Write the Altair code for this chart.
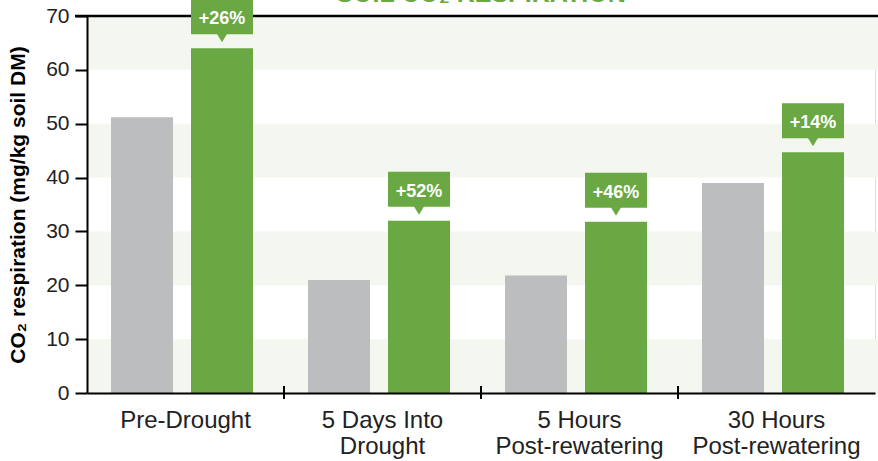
import altair as alt
import pandas as pd

categories = ["Pre-Drought", "5 Days Into\nDrought", "5 Hours\nPost-rewatering", "30 Hours\nPost-rewatering"]
series = ["Control", "Treated"]
control = [51.2, 21.0, 21.8, 39.0]
treated = [64.0, 32.0, 31.8, 44.7]
increase = ["+26%", "+52%", "+46%", "+14%"]
y_ticks = [0, 10, 20, 30, 40, 50, 60, 70]
stripe_lo = [0, 20, 40, 60]
stripe_hi = [10, 30, 50, 70]
title_text = "SOIL CO\u2082 RESPIRATION"
y_title = "CO\u2082 respiration (mg/kg soil DM)"

GREEN = "#6aa843"
GREY = "#bcbdbf"
STRIPE = "#f4f7ef"
FONT = "Liberation Sans"

W, H = 788, 377

rows = []
for c, a, b in zip(categories, control, treated):
    rows.append({"cat": c, "series": "Control", "value": a})
    rows.append({"cat": c, "series": "Treated", "value": b})
bars_df = pd.DataFrame(rows)
lab_df = pd.DataFrame({"cat": categories, "series": ["Treated"] * 4, "value": treated, "label": increase})
stripes_df = pd.DataFrame({"lo": stripe_lo, "hi": stripe_hi})
ticks_df = pd.DataFrame({"cat": categories[1:]})
title_df = pd.DataFrame({"t": [title_text]})

xscale = alt.Scale(domain=categories, paddingInner=0, paddingOuter=0)
yscale = alt.Scale(domain=[0, 70], nice=False)
offscale = alt.Scale(domain=series, range=[24, 166], paddingInner=0.225, paddingOuter=0)

x_axis = alt.Axis(
    title=None, ticks=False, domainColor="black", domainWidth=2,
    labelFontSize=24, labelColor="#222222", labelFont=FONT, labelPadding=15,
    labelAngle=0, labelLineHeight=26, labelExpr="split(datum.label, '\\n')", zindex=1,
)
y_axis = alt.Axis(
    values=y_ticks, tickSize=12, tickWidth=2, tickColor="black",
    domainColor="black", domainWidth=2, grid=False,
    labelFontSize=21, labelColor="#222222", labelFont=FONT, labelPadding=6,
    title=y_title, titleFontSize=21, titleFontWeight="bold", titleFont=FONT,
    titleColor="black", titleX=-69, titleY=H / 2, titleAngle=-90,
    titleAlign="center", titleBaseline="middle", zindex=1,
)

stripes = alt.Chart(stripes_df).mark_rect(color=STRIPE).encode(
    x=alt.value(0), x2=alt.value(W + 3),
    y=alt.Y("lo:Q", scale=yscale, axis=y_axis), y2="hi:Q",
)

top_line = alt.Chart(title_df).mark_rule(color="black", strokeWidth=2.5).encode(
    x=alt.value(-12), x2=alt.value(W + 3), y=alt.value(0),
)

bars = alt.Chart(bars_df).mark_bar().encode(
    x=alt.X("cat:N", sort=categories, scale=xscale, axis=x_axis),
    xOffset=alt.XOffset("series:N", scale=offscale, sort=series),
    y=alt.Y("value:Q", scale=yscale),
    color=alt.Color("series:N", scale=alt.Scale(domain=series, range=[GREY, GREEN]), legend=None),
)

boxes = alt.Chart(lab_df).mark_rect(color=GREEN, yOffset=-49, y2Offset=-14).encode(
    x=alt.X("cat:N", sort=categories, scale=xscale),
    xOffset=alt.XOffset("series:N", scale=offscale, sort=series),
    y=alt.Y("value:Q", scale=yscale), y2="value:Q",
)

pointers = alt.Chart(lab_df).mark_point(
    shape="M-1,-1L1,-1L0,0.67Z", size=144, filled=True, opacity=1,
    color=GREEN, strokeWidth=0, yOffset=-10,
).encode(
    x=alt.X("cat:N", sort=categories, scale=xscale),
    xOffset=alt.XOffset("series:N", scale=offscale, sort=series),
    y=alt.Y("value:Q", scale=yscale),
)

labels = alt.Chart(lab_df).mark_text(
    color="white", fontWeight="bold", fontSize=18, font=FONT,
    baseline="middle", align="center", yOffset=-29,
).encode(
    x=alt.X("cat:N", sort=categories, scale=xscale),
    xOffset=alt.XOffset("series:N", scale=offscale, sort=series),
    y=alt.Y("value:Q", scale=yscale),
    text="label:N",
)

group_ticks = alt.Chart(ticks_df).mark_rule(color="black", strokeWidth=2).encode(
    x=alt.X("cat:N", sort=categories, scale=xscale, bandPosition=0),
    y=alt.value(H - 7), y2=alt.value(H + 6),
)

title = alt.Chart(title_df).mark_text(
    color=GREEN, fontWeight="bold", fontSize=25, font=FONT,
    align="center", baseline="alphabetic",
).encode(x=alt.value(394), y=alt.value(-14), text="t:N")

chart = alt.layer(stripes, top_line, bars, boxes, pointers, labels, group_ticks, title).properties(
    width=W, height=H, autosize="none",
    padding={"left": 87, "top": 16, "right": 3, "bottom": 68},
).configure_view(stroke=None).configure(font=FONT, background="white")

chart.save("out.html", embed_options={"renderer": "svg", "actions": False})
